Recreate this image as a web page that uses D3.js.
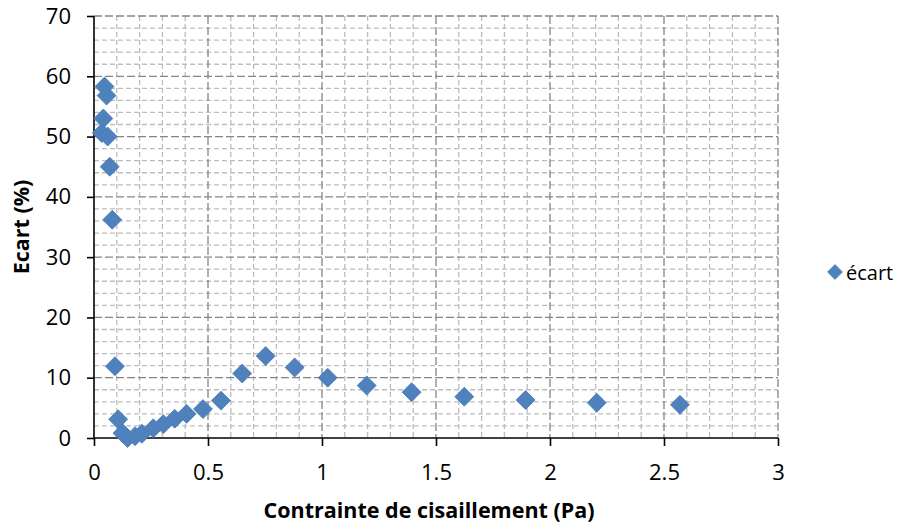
<!DOCTYPE html>
<html>
<head>
<meta charset="utf-8">
<script src="https://cdn.jsdelivr.net/npm/d3@7"></script>
<style>
  body { margin: 0; background: #fff; }
  svg text { font-family: "Open Sans", "Noto Sans", sans-serif; fill: #000; }
</style>
</head>
<body>
<svg id="chart"></svg>
<script>
// shear stress (Pa) and deviation (%)
let stress = [0.034, 0.041, 0.046, 0.055, 0.060, 0.069, 0.080, 0.092, 0.106, 0.125, 0.147, 0.180, 0.210,
    0.260, 0.304, 0.354, 0.406, 0.478, 0.557, 0.650, 0.753, 0.880, 1.025, 1.196, 1.393, 1.624, 1.893, 2.205, 2.570]
let ecart = [50.6, 53.0, 58.3, 56.8, 50.0, 45.0, 36.2, 11.9, 3.1, 0.8, 0.0, 0.3, 0.7,
    1.6, 2.3, 3.2, 4.0, 4.8, 6.2, 10.7, 13.6, 11.7, 10.0, 8.7, 7.6, 6.85, 6.3, 5.85, 5.5]
let xTicks = [0, 0.5, 1, 1.5, 2, 2.5, 3]
let yTicks = [0, 10, 20, 30, 40, 50, 60, 70]
let seriesName = 'écart'

let width = 906
let height = 528
let pLeft = 94, pTop = 16, pRight = 778, pBottom = 438

let svg = d3.select('#chart').attr('width', width).attr('height', height)

let xScale = d3.scaleLinear().domain([0, 3]).range([pLeft, pRight])
let yScale = d3.scaleLinear().domain([0, 70]).range([pBottom, pTop])

let values = stress.map((s, i) => ({ x: s, y: ecart[i] }))

// minor grid
let xMinor = d3.range(0, 3.0001, 0.1).filter(v => Math.abs(v * 2 - Math.round(v * 2)) > 1e-6)
let yMinor = d3.range(0, 70.001, 2).filter(v => v % 10 !== 0)

svg.append('g').selectAll('line').data(xMinor).enter().append('line')
    .attr('x1', d => xScale(d)).attr('x2', d => xScale(d))
    .attr('y1', pTop).attr('y2', pBottom)
    .attr('stroke', '#bdbdbd').attr('stroke-width', 1.3).attr('stroke-dasharray', '5,3')
svg.append('g').selectAll('line').data(yMinor).enter().append('line')
    .attr('x1', pLeft).attr('x2', pRight)
    .attr('y1', d => yScale(d)).attr('y2', d => yScale(d))
    .attr('stroke', '#bdbdbd').attr('stroke-width', 1.3).attr('stroke-dasharray', '5,3')

// major grid
svg.append('g').selectAll('line').data(xTicks.slice(1)).enter().append('line')
    .attr('x1', d => xScale(d)).attr('x2', d => xScale(d))
    .attr('y1', pTop).attr('y2', pBottom)
    .attr('stroke', '#858585').attr('stroke-width', 1.3).attr('stroke-dasharray', '8,3')
svg.append('g').selectAll('line').data(yTicks.slice(1)).enter().append('line')
    .attr('x1', pLeft).attr('x2', pRight)
    .attr('y1', d => yScale(d)).attr('y2', d => yScale(d))
    .attr('stroke', '#858585').attr('stroke-width', 1.3).attr('stroke-dasharray', '8,3')

// axes
let xAxis = d3.axisBottom(xScale).tickValues(xTicks).tickFormat(d => d).tickSize(8).tickPadding(18)
let yAxis = d3.axisLeft(yScale).tickValues(yTicks).tickFormat(d => d).tickSize(7).tickPadding(16)

let gx = svg.append('g').attr('transform', 'translate(0,' + pBottom + ')').call(xAxis)
let gy = svg.append('g').attr('transform', 'translate(' + pLeft + ',0)').call(yAxis)
for (let g of [gx, gy]) {
    g.select('.domain').attr('stroke', '#000').attr('stroke-width', 1.6)
    g.selectAll('.tick line').attr('stroke', '#000').attr('stroke-width', 1.6)
    g.selectAll('.tick text').attr('font-size', 22).attr('font-family', '"Open Sans", sans-serif').attr('fill', '#000')
}
gy.select('.domain').attr('d', 'M0,' + pTop + 'V' + pBottom)
gx.select('.domain').attr('d', 'M' + pLeft + ',0H' + pRight)

// points
let diamond = d3.symbol().type(d3.symbolSquare).size(180)
svg.append('g').selectAll('path').data(values).enter().append('path')
    .attr('d', diamond)
    .attr('transform', d => 'translate(' + xScale(d.x) + ',' + yScale(d.y) + ') rotate(45)')
    .attr('fill', '#4f81bd').attr('stroke', '#4a7ebb').attr('stroke-width', 0.8)

// axis titles
svg.append('text').attr('x', 429).attr('y', 518)
    .attr('text-anchor', 'middle').attr('font-size', 21.5).attr('font-weight', 'bold')
    .text('Contrainte de cisaillement (Pa)')
svg.append('text').attr('transform', 'translate(29,' + (pTop + pBottom) / 2 + ') rotate(-90)')
    .attr('text-anchor', 'middle').attr('font-size', 21.5).attr('font-weight', 'bold')
    .text('Ecart (%)')

// legend
svg.append('path').attr('d', d3.symbol().type(d3.symbolSquare).size(110))
    .attr('transform', 'translate(835,272) rotate(45)')
    .attr('fill', '#4f81bd').attr('stroke', '#4a7ebb').attr('stroke-width', 0.8)
svg.append('text').attr('x', 846).attr('y', 280).attr('font-size', 20).text(seriesName)
</script>
</body>
</html>
